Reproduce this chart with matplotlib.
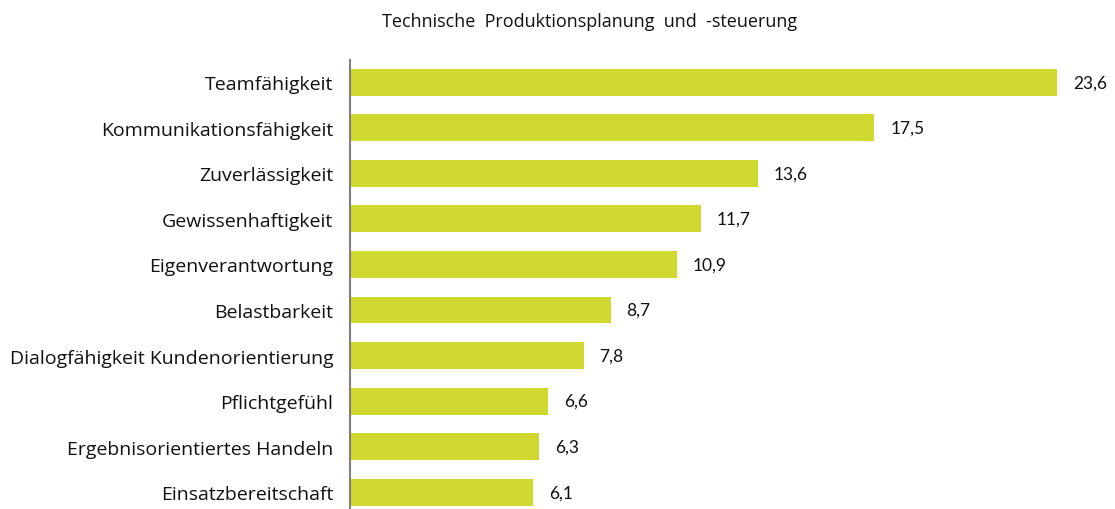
import matplotlib
matplotlib.use("Agg")
import matplotlib.pyplot as plt

categories = [
    "Teamfähigkeit",
    "Kommunikationsfähigkeit",
    "Zuverlässigkeit",
    "Gewissenhaftigkeit",
    "Eigenverantwortung",
    "Belastbarkeit",
    "Dialogfähigkeit Kundenorientierung",
    "Pflichtgefühl",
    "Ergebnisorientiertes Handeln",
    "Einsatzbereitschaft",
]
values = [23.6, 17.5, 13.6, 11.7, 10.9, 8.7, 7.8, 6.6, 6.3, 6.1]
title = "Technische  Produktionsplanung  und  -steuerung"

plt.rcParams['font.family'] = ['Lato', 'DejaVu Sans']

fig = plt.figure(figsize=(11.15, 5.1), dpi=100)
# axes from x=350px to right edge, y from 61px to bottom
ax = fig.add_axes([350 / 1115, 0, 765 / 1115, 449 / 510])

pos = list(range(len(categories)))
ax.barh(pos, values, height=0.59, color="#D0D92F")
ax.set_xlim(0, 25.53)
ax.set_ylim(9.37, -0.49)

for p, v in zip(pos, values):
    ax.text(v + 0.53, p, f"{v:.1f}".replace(".", ","), va="center", ha="left",
            fontsize=12.5, color="#111111")

ax.set_yticks(pos)
ax.set_yticklabels(categories, fontsize=14, color="#111111", family="Open Sans")
ax.tick_params(axis="y", length=0, pad=12)
ax.set_xticks([])
for s in ["top", "right", "bottom"]:
    ax.spines[s].set_visible(False)
ax.spines["left"].set_color("#808080")
ax.spines["left"].set_linewidth(1.5)

fig.text(590 / 1115, 1 - 22 / 510, title, ha="center", va="center",
         fontsize=13, color="#111111", family="Open Sans")

fig.savefig("out.png", dpi=100)
